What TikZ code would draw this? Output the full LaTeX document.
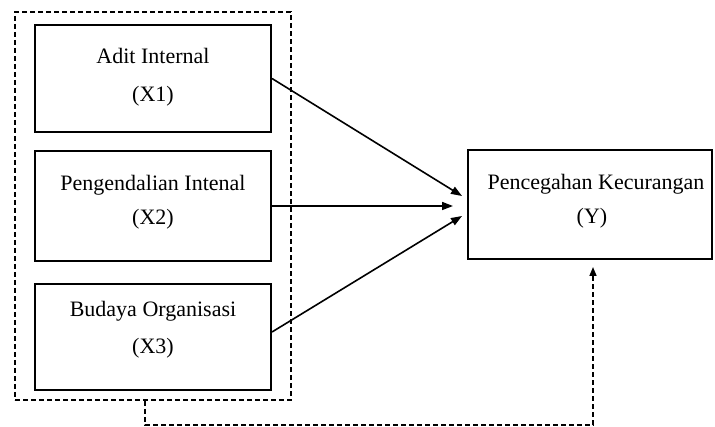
\documentclass[tikz,border=0pt]{standalone}
\usepackage{fontspec}
\setmainfont{Liberation Serif}
\usetikzlibrary{arrows.meta, positioning}
\tikzset{
  varbox/.style = {draw, line width=2pt, minimum width=236pt, align=center,
    font=\fontsize{22}{26}\selectfont, inner sep=0pt},
  groupbox/.style = {draw, line width=1.8pt, dash pattern=on 5pt off 3pt,
    minimum width=276pt, minimum height=388pt},
  link/.style = {-{Triangle[length=11pt,width=8pt]}, line width=1.6pt},
  feedback/.style = {-{Triangle[length=9pt,width=7pt]}, line width=1.6pt,
    dash pattern=on 5pt off 3pt}
}

\begin{document}
\begin{tikzpicture}[x=1pt, y=1pt]

  \useasboundingbox (0,0) rectangle (715,426);

  % Independent variables
  \node[varbox, minimum height=107pt, text depth=7pt] (x1) at (153,347.5) {Adit Internal\\[12pt](X1)};
  \node[varbox, minimum height=110pt, text depth=13pt, below=17pt of x1] (x2) {Pengendalian Intenal\\[8pt](X2)};
  \node[varbox, minimum height=106pt, text depth=20pt, below=21pt of x2] (x3) {Budaya Organisasi\\[11pt](X3)};

  % Group
  \node[groupbox] (grp) at (153,220) {};

  % Dependent variable
  \node[varbox, minimum width=244pt, minimum height=109pt,
    text depth=12pt] (y) at (590,221.5) {\hspace*{12pt}Pencegahan Kecurangan\\[8pt]\hspace*{4pt}(Y)};

  % Arrow ends
  \coordinate (t1) at (462,230);
  \coordinate (t2) at (453,220);
  \coordinate (t3) at (462,210);

  % Partial effects
  \draw[link] (x1.east) -- (t1);
  \draw[link] (x2.east) -- (t2);
  \draw[link] ([yshift=5pt]x3.east) -- (t3);

  % Simultaneous effect
  \draw[feedback] ([xshift=-8pt]grp.south) -- ++(0,-24) -| ([xshift=3pt,yshift=-7pt]y.south);

\end{tikzpicture}
\end{document}
